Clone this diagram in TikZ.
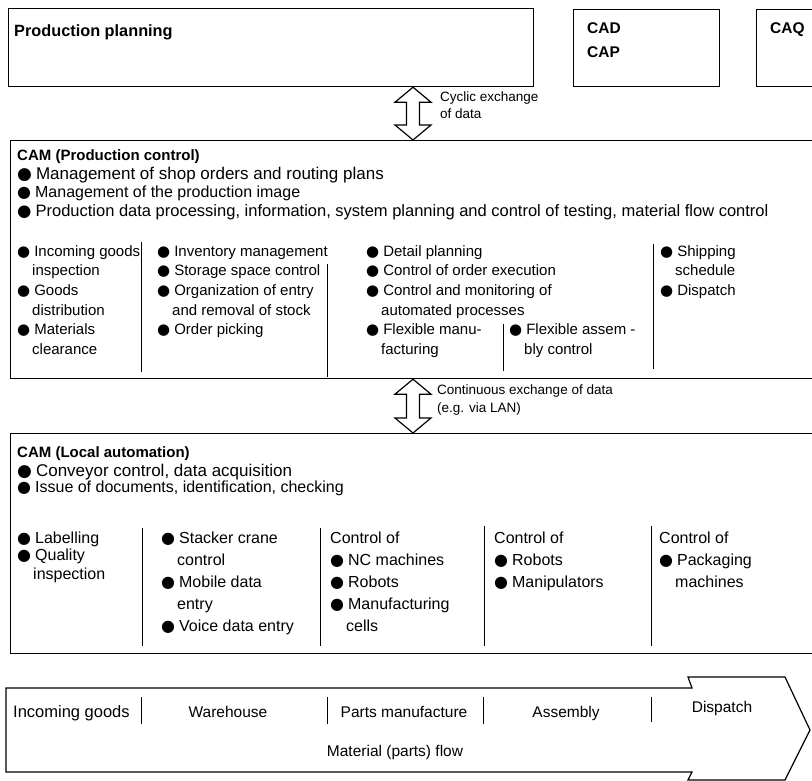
\documentclass[tikz,border=0pt]{standalone}
\usepackage{fontspec}
\setmainfont{Liberation Sans}
\newfontfamily\bulletfont{DejaVu Sans}
\usetikzlibrary{calc}

% filled round bullet in front of list items
\newcommand{\bul}{{\bulletfont\symbol{"25CF}}\hspace{4pt}}

% hollow double-headed arrow between two named points (top, bottom)
\newcommand{\dblarrow}[2]{%
  \draw[arrowline] let \p1=(#1), \p2=(#2) in
    (\x1,\y1) -- (\x1+18pt,\y1-15pt) -- (\x1+6.5pt,\y1-15pt)
    -- (\x2+6.5pt,\y2+15pt) -- (\x2+18pt,\y2+15pt) -- (\x2,\y2)
    -- (\x2-18pt,\y2+15pt) -- (\x2-6.5pt,\y2+15pt)
    -- (\x1-6.5pt,\y1-15pt) -- (\x1-18pt,\y1-15pt) -- cycle;}

\tikzset{
  box/.style={draw, line width=1.2pt, inner sep=0pt, anchor=north west},
  arrowline/.style={draw, line width=1.2pt, fill=white, line join=miter},
  txt/.style={anchor=base west, inner sep=0pt, font=\fontsize{16}{18}\selectfont},
  bigtxt/.style={txt, font=\fontsize{17}{19}\selectfont},
  coltxt/.style={txt, font=\fontsize{15}{18}\selectfont},
  hdr/.style={anchor=base west, inner sep=0pt, font=\fontsize{15}{18}\selectfont\bfseries},
  lbl/.style={anchor=base west, inner sep=0pt, font=\fontsize{13.5}{16}\selectfont},
  flowtxt/.style={anchor=base, inner sep=0pt, font=\fontsize{15.5}{18}\selectfont},
  sep/.style={line width=1pt},
}

\begin{document}
\begin{tikzpicture}[x=1pt,y=-1pt]
\clip (0,0) rectangle (812,781);
\fill[white] (0,0) rectangle (812,781);

% ---------- planning level ----------
\node[box, minimum width=525pt, minimum height=78pt] (pp) at (8,8) {};
\node[hdr, font=\fontsize{16.3}{18}\selectfont\bfseries] (pptxt) at (14,37) {Production planning};

\node[box, minimum width=146pt, minimum height=77pt] (cad) at (573,9) {};
\node[hdr, font=\fontsize{15.5}{18}\selectfont\bfseries] (cadtxt) at (587,34) {CAD};
\node[hdr, font=\fontsize{15.5}{18}\selectfont\bfseries] (captxt) at (587,58) {CAP};

\node[box, minimum width=100pt, minimum height=77pt] (caq) at (756,9) {};
\node[hdr, font=\fontsize{15.5}{18}\selectfont\bfseries] (caqtxt) at (770,34) {CAQ};

% ---------- production control ----------
\node[box, minimum width=830pt, minimum height=238pt] (cam) at (10,140) {};
\node[hdr] (camh) at (17,161) {CAM (Production control)};
\node[bigtxt] (cb1) at (17,179.5) {\bul Management of shop orders and routing plans};
\node[txt] (cb2) at (17,198) {\bul Management of the production image};
\node[txt, font=\fontsize{16.5}{18}\selectfont] (cb3) at (17,216.5) {\bul Production data processing, information, system planning and control of testing, material flow control};

% column 1
\node[coltxt] (c1a) at (17,256.5) {\bul Incoming goods};
\node[coltxt] (c1b) at (32,276) {inspection};
\node[coltxt] (c1c) at (17,295.5) {\bul Goods};
\node[coltxt] (c1d) at (32,315) {distribution};
\node[coltxt] (c1e) at (17,334.5) {\bul Materials};
\node[coltxt] (c1f) at (32,354) {clearance};
\draw[sep] (141,242) -- (141,372);
% column 2
\node[coltxt] (c2a) at (157,256.5) {\bul Inventory management};
\node[coltxt] (c2b) at (157,276) {\bul Storage space control};
\node[coltxt] (c2c) at (157,295.5) {\bul Organization of entry};
\node[coltxt] (c2d) at (172,315) {and removal of stock};
\node[coltxt] (c2e) at (157,334.5) {\bul Order picking};
\draw[sep] (327,264) -- (327,377);
% column 3
\node[coltxt] (c3a) at (366,256.5) {\bul Detail planning};
\node[coltxt] (c3b) at (366,276) {\bul Control of order execution};
\node[coltxt] (c3c) at (366,295.5) {\bul Control and monitoring of};
\node[coltxt] (c3d) at (381,315) {automated processes};
\node[coltxt] (c3e) at (366,334.5) {\bul Flexible manu-};
\node[coltxt] (c3f) at (381,354) {facturing};
\draw[sep] (503,324) -- (503,371);
\node[coltxt] (c3g) at (509,334.5) {\bul Flexible assem -};
\node[coltxt] (c3h) at (524,354) {bly control};
\draw[sep] (653,244) -- (653,369);
% column 4
\node[coltxt] (c4a) at (660,256.5) {\bul Shipping};
\node[coltxt] (c4b) at (675,276) {schedule};
\node[coltxt] (c4c) at (660,295.5) {\bul Dispatch};

% cyclic link
\coordinate (ax1) at (413,0);
\coordinate (a1t) at (pp.south -| ax1);
\coordinate (a1b) at (cam.north -| ax1);
\dblarrow{a1t}{a1b}
\node[lbl] (cyc1) at (440,102) {Cyclic exchange};
\node[lbl] (cyc2) at (440,119) {of data};

% ---------- local automation ----------
\node[box, minimum width=830pt, minimum height=220pt] (loc) at (10,433) {};
\node[hdr] (loch) at (17,457) {CAM (Local automation)};
\node[bigtxt] (lb1) at (17,476) {\bul Conveyor control, data acquisition};
\node[txt] (lb2) at (17,492.5) {\bul Issue of documents, identification, checking};

\node[txt] (l1a) at (17,543.5) {\bul Labelling};
\node[txt] (l1b) at (17,560.5) {\bul Quality};
\node[txt] (l1c) at (33,579.5) {inspection};
\draw[sep] (142,528) -- (142,646);
\node[txt] (l2a) at (161,543.5) {\bul Stacker crane};
\node[txt] (l2b) at (177,565.5) {control};
\node[txt] (l2c) at (161,587.5) {\bul Mobile data};
\node[txt] (l2d) at (177,609.5) {entry};
\node[txt] (l2e) at (161,631.5) {\bul Voice data entry};
\draw[sep] (320,528) -- (320,646);
\node[txt] (l3a) at (330,543.5) {Control of};
\node[txt] (l3b) at (330,565.5) {\bul NC machines};
\node[txt] (l3c) at (330,587.5) {\bul Robots};
\node[txt] (l3d) at (330,609.5) {\bul Manufacturing};
\node[txt] (l3e) at (346,631.5) {cells};
\draw[sep] (484,526) -- (484,646);
\node[txt] (l4a) at (494,543.5) {Control of};
\node[txt] (l4b) at (494,565.5) {\bul Robots};
\node[txt] (l4c) at (494,587.5) {\bul Manipulators};
\draw[sep] (651,526) -- (651,646);
\node[txt] (l5a) at (659,543.5) {Control of};
\node[txt] (l5b) at (659,565.5) {\bul Packaging};
\node[txt] (l5c) at (675,587.5) {machines};

% continuous link
\coordinate (a2t) at (cam.south -| ax1);
\coordinate (a2b) at (loc.north -| ax1);
\dblarrow{a2t}{a2b}
\node[lbl] (con1) at (437,394) {Continuous exchange of data};
\node[lbl] (con2) at (437,412) {(e.g. via LAN)};

% ---------- material flow ----------
\draw[line width=1.2pt, line join=miter]
  (6,688) -- (692,688) -- (688,677) -- (785,677) -- (810,730)
  -- (785,780) -- (688,780) -- (692,772) -- (6,772) -- cycle;
\node[txt, font=\fontsize{16.5}{18}\selectfont] (f1) at (13,717) {Incoming goods};
\draw[sep] (141,697) -- (141,724);
\node[flowtxt] (f2) at (228,717) {Warehouse};
\draw[sep] (327,697) -- (327,724);
\node[flowtxt] (f3) at (404,717) {Parts manufacture};
\draw[sep] (483,697) -- (483,724);
\node[flowtxt] (f4) at (566,717) {Assembly};
\draw[sep] (651,697) -- (651,722);
\node[flowtxt] (f5) at (722,712) {Dispatch};
\node[flowtxt] (f6) at (395,756) {Material (parts) flow};
\end{tikzpicture}
\end{document}
